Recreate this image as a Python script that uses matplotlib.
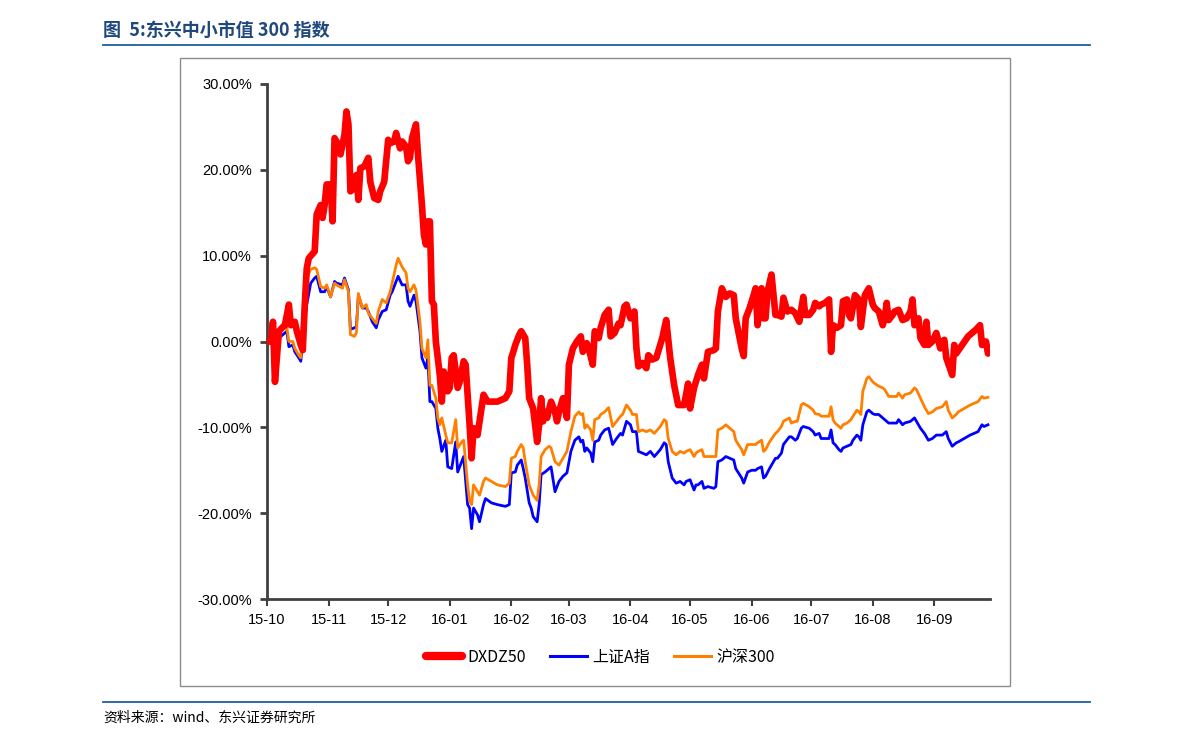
import pandas as pd
import matplotlib.pyplot as plt
import matplotlib.dates as mdates
from matplotlib.ticker import FuncFormatter
from matplotlib.patches import Rectangle
from matplotlib.lines import Line2D

plt.rcParams['font.family'] = ['Noto Sans CJK SC', 'DejaVu Sans']

# 数据：日期用相对 2015-10-01 的天数表示，数值为累计涨跌幅(%)
start = pd.Timestamp('2015-10-01')

red_days = [0, 2, 3, 4, 6, 8, 9, 11, 12, 14, 15, 17, 18, 19, 20, 21, 24, 25, 27, 28,
            29, 30, 32, 33, 34, 35, 37, 39, 40, 41, 42, 43, 44, 45, 46, 47, 49, 51, 52, 54,
            56, 57, 59, 61, 62, 64, 65, 67, 68, 70, 71,
            72, 73, 75, 76, 78, 79, 80, 81, 82, 83, 84, 85, 87, 88, 89, 91, 92, 93, 94, 96,
            97, 99, 100, 102, 103, 104, 106, 108, 109, 111, 116, 120, 122, 123, 124, 125, 127, 128, 130, 131,
            132, 134, 136, 137, 138, 139, 140, 141, 143, 145,
            146, 147, 149, 151, 152, 154, 156, 158, 159, 161, 162, 164, 165, 167, 168, 170, 172, 173, 175, 177,
            178, 180, 181, 183, 185, 186, 187, 189, 191, 192, 194, 196, 199, 201, 203, 205, 207, 210, 212, 213, 215,
            217, 219, 220, 222, 225, 226, 227, 229, 231, 233, 235, 236, 239, 240, 241, 243, 245, 246, 247, 249,
            250, 251, 252, 254, 256, 257, 259, 260, 262, 264, 266, 268, 270, 271, 273, 275, 276, 278, 279, 281,
            283, 284, 285, 287, 289,
            290, 292, 293, 294, 296, 298, 299, 301, 303, 305, 306, 308, 310, 311, 312, 313, 315, 316, 318, 320,
            322, 324, 325, 326, 328, 329, 331, 332, 333, 335, 337, 339, 341, 342, 345, 346, 347, 350, 353, 357,
            359, 360, 362, 363]
dxdz50 = [0.0, 0.0, 2.3, -4.7, 1.2, 1.7, 1.9, 4.3, 1.9, 2.3, 1.2, -0.4, -1.0, 4.3, 8.5, 9.7, 10.5, 14.8, 15.9, 14.4,
          15.9, 18.3, 18.3, 14.0, 23.7, 23.3, 21.8, 24.1, 26.8, 25.3, 17.5, 17.7, 19.0, 19.4, 16.5, 20.2, 20.4, 21.4, 18.6, 16.7,
          16.5, 17.5, 18.6, 23.5, 23.1, 23.3, 24.3, 22.5, 23.3, 22.7, 21.0,
          21.4, 23.7, 25.3, 21.8, 15.9, 12.4, 11.3, 14.0, 14.0, 4.7, 4.3, 0.0, -3.9, -7.0, -3.5, -5.8, -5.4, -1.9, -1.6, -5.4,
          -4.7, -2.3, -2.7, -9.7, -13.6, -10.1, -10.9, -7.8, -6.2, -7.0, -7.0, -6.6, -5.8, -1.9, -1.2, -0.4, 0.8, 1.2, 0.4, -2.7,
          -6.6, -7.8, -11.7, -9.7, -6.6, -9.3, -8.2, -8.9, -7.0, -8.2,
          -9.3, -8.2, -6.6, -8.9, -2.7, -0.8, 0.0, 0.6, -1.2, -0.2, -0.8, -2.7, 1.2, 0.4, 1.6, 3.1, 3.7, 0.6, 1.0, 2.1,
          1.9, 4.1, 4.3, 2.7, 3.5, -0.8, -2.9, -2.5, -3.1, -1.6, -2.1, -1.9, 0.4, 2.5, -1.9, -5.1, -7.4, -7.4, -4.9, -7.8, -5.4,
          -3.9, -2.7, -4.3, -1.2, -1.0, -0.8, 3.5, 6.2, 5.2, 5.6, 5.4, 2.7, -0.8, -1.7, 2.7, 3.9, 5.4, 6.2, 1.9, 6.2,
          2.7, 2.7, 5.8, 7.8, 3.1, 3.1, 2.9, 5.1, 3.5, 3.7, 3.3, 2.3, 5.2, 3.1, 3.1, 3.7, 4.5, 4.1, 4.3, 4.5,
          4.9, -1.2, 1.9, 1.6, 1.9,
          4.7, 4.9, 3.1, 2.7, 5.4, 4.9, 1.7, 5.4, 6.2, 4.3, 3.9, 3.5, 1.9, 2.7, 4.5, 2.5, 3.1, 3.5, 3.7, 2.5,
          2.7, 3.5, 4.9, 1.9, 2.7, 0.4, -0.4, 2.3, -0.4, 0.0, 1.0, -0.8, 0.2, -1.9, -3.9, -0.4, -1.4, -0.4, 0.6, 1.4,
          1.9, -0.4, 0.0, -1.4]

idx_days = [0, 3, 4, 5, 6, 8, 10, 11, 13, 14, 16, 17, 19, 20, 22, 24, 25, 27, 29, 30,
            32, 34, 35, 38, 39, 41, 42, 44, 45, 46, 48, 50, 51, 53, 55, 56, 58, 60, 62, 63,
            65, 66, 68, 70, 71,
            72, 74, 75, 77, 78, 80, 81, 82, 83, 85, 86, 87, 88, 90, 91, 93, 95, 96, 98, 99,
            101, 102, 103, 104, 106, 107, 109, 110, 113, 116, 120, 122, 123, 125, 126, 128, 129, 130, 132, 133,
            134, 136, 137, 138, 140, 142, 143, 145,
            147, 149, 151, 153, 155, 157, 158, 159, 160, 161, 163, 164, 165, 167, 168, 170, 172, 174, 176, 178,
            179, 181, 183, 184, 186, 187, 189, 191, 193, 195, 198, 200, 201, 202, 204, 206, 208, 210, 211, 213,
            215, 216,
            217, 219, 220, 222, 225, 226, 227, 229, 231, 233, 235, 236, 239, 240, 242, 244, 246, 247, 249, 250,
            251, 253, 256, 257, 259, 260, 263, 264, 266, 267, 269, 270, 273, 275, 276, 278, 279, 281, 283, 284,
            285, 286, 288, 289,
            290, 292, 294, 295, 297, 298, 299, 300, 302, 303, 305, 306, 308, 310, 311, 313, 315, 317, 318, 320,
            321, 324, 326, 327, 329, 331, 333, 335, 337, 340, 342, 343, 345, 347, 348, 351, 354, 358, 360, 361,
            363]
sz_a = [0.0, 0.0, 0.8, -1.9, 0.4, 0.8, 1.2, -0.6, -0.4, -1.2, -1.9, -2.3, 2.3, 4.3, 6.8, 7.4, 7.6, 5.8, 5.8, 6.4,
        5.2, 7.0, 6.8, 6.6, 7.4, 6.0, 1.4, 1.6, 1.7, 5.4, 3.9, 3.9, 3.5, 2.3, 1.6, 2.5, 3.5, 3.7, 5.4, 5.8,
        7.0, 7.6, 6.6, 6.6, 4.7,
        4.1, 5.4, 4.7, 1.2, -1.9, -3.1, -1.9, -7.0, -7.0, -7.8, -10.1, -11.3, -12.8, -11.5, -14.6, -14.8, -11.7, -15.2, -14.0, -13.4,
        -19.0, -19.4, -21.8, -19.4, -20.2, -21.0, -19.0, -18.3, -18.8, -19.0, -19.2, -19.0, -15.3, -15.2, -14.4, -13.8, -14.8, -15.9, -18.8, -19.4,
        -20.4, -21.0, -19.0, -15.5, -15.2, -14.8, -14.6, -17.5,
        -16.3, -15.7, -15.3, -12.8, -11.5, -11.1, -11.7, -11.5, -12.8, -12.4, -13.0, -14.0, -11.7, -11.5, -10.9, -10.3, -10.1, -12.0, -11.3, -10.7,
        -10.9, -9.3, -9.7, -10.5, -10.5, -12.8, -13.0, -13.2, -12.8, -13.4, -12.6, -11.8, -12.0, -14.0, -15.9, -16.5, -16.3, -16.7, -16.3, -16.1,
        -17.3, -16.7,
        -16.7, -16.3, -17.1, -16.9, -17.1, -16.9, -14.0, -13.8, -13.4, -13.6, -13.8, -14.8, -15.9, -16.5, -15.2, -15.0, -15.0, -14.8, -14.6, -15.9,
        -15.7, -14.8, -13.6, -13.6, -13.0, -12.0, -11.1, -11.1, -11.5, -11.3, -10.1, -9.9, -10.1, -10.5, -10.9, -10.7, -11.3, -11.3, -11.3, -10.3,
        -11.8, -12.0, -12.6, -12.8,
        -12.4, -12.2, -12.0, -11.5, -10.9, -11.1, -11.5, -9.7, -8.2, -8.0, -8.4, -8.5, -8.5, -8.9, -9.1, -9.5, -9.5, -9.5, -9.1, -9.7,
        -9.5, -9.3, -8.9, -9.3, -10.1, -10.7, -11.5, -11.3, -10.9, -10.9, -10.5, -11.3, -12.2, -11.8, -11.7, -11.3, -10.9, -10.5, -9.7, -9.9,
        -9.7]
hs300 = [0.0, 0.0, 1.2, -1.6, 1.2, 1.5, 1.6, 0.0, 0.0, -0.8, -1.6, -1.9, 3.5, 7.4, 8.4, 8.6, 8.4, 6.4, 6.2, 6.6,
         5.2, 6.8, 6.6, 6.2, 7.2, 5.8, 0.8, 0.6, 1.0, 5.6, 3.9, 4.3, 3.3, 2.7, 2.1, 3.5, 4.9, 4.5, 5.8, 6.8,
         8.9, 9.7, 8.7, 8.0, 6.2,
         5.8, 6.6, 6.0, 2.3, -0.8, -1.9, 0.2, -5.1, -5.1, -6.6, -8.9, -9.7, -8.9, -10.9, -11.8, -11.8, -9.1, -12.4, -11.7, -11.5,
         -16.7, -18.6, -19.0, -16.7, -17.5, -17.9, -16.3, -15.9, -16.3, -16.7, -16.9, -16.5, -13.6, -13.4, -12.8, -12.0, -12.4, -14.0, -16.7, -17.3,
         -17.9, -18.5, -16.7, -13.4, -12.6, -12.2, -12.4, -14.0,
         -14.4, -13.6, -12.8, -10.5, -8.7, -8.2, -8.5, -8.4, -10.1, -9.7, -10.3, -11.5, -9.1, -8.9, -8.5, -8.2, -7.7, -9.9, -9.3, -8.7,
         -8.5, -7.4, -8.0, -8.5, -8.5, -10.5, -10.3, -10.5, -10.3, -10.7, -9.9, -9.1, -9.3, -11.3, -12.8, -13.2, -12.8, -13.0, -12.8, -12.6,
         -13.4, -13.0,
         -12.8, -12.6, -13.4, -13.4, -13.4, -13.4, -10.3, -10.1, -9.7, -10.1, -10.5, -11.5, -12.6, -13.2, -12.0, -12.0, -12.0, -11.8, -11.5, -12.8,
         -12.6, -11.7, -10.7, -10.5, -9.9, -9.3, -8.9, -9.5, -9.3, -9.3, -7.4, -7.2, -7.6, -8.0, -8.4, -8.5, -8.7, -8.7, -8.7, -7.6,
         -9.1, -9.5, -9.9, -10.1,
         -9.7, -9.5, -9.1, -8.7, -8.0, -8.2, -8.5, -5.8, -4.3, -4.1, -4.7, -4.9, -5.2, -5.4, -5.6, -6.4, -6.4, -6.4, -6.0, -6.6,
         -6.2, -6.0, -5.4, -5.6, -6.6, -7.6, -8.4, -8.2, -7.8, -7.6, -7.0, -8.0, -8.9, -8.5, -8.2, -7.8, -7.4, -7.0, -6.4, -6.6,
         -6.5]

series_names = ['DXDZ50', '上证A指', '沪深300']
series_colors = ['#FF0000', '#0000FF', '#FF8000']
yticks = [-30, -20, -10, 0, 10, 20, 30]

red_dates = start + pd.to_timedelta(red_days, unit='D')
idx_dates = start + pd.to_timedelta(idx_days, unit='D')

fig = plt.figure(figsize=(11.91, 7.46), dpi=100)

# 标题
fig.text(0.0865, 0.9598, '图  5:东兴中小市值 300 指数', fontsize=13, fontweight='bold',
         color='#1F497D', va='center', ha='left')
fig.add_artist(Line2D([0.0865, 0.9152], [0.9397, 0.9397], color='#1F5FA0', lw=1.3))

# 外框
fig.add_artist(Rectangle((0.1511, 0.0804), 0.6969, 0.8419, fill=False,
                         edgecolor='#8C8C8C', lw=1.0))

ax = fig.add_axes([0.2242, 0.197, 0.607, 0.6904])
ax.plot(idx_dates, sz_a, color=series_colors[1], lw=2.0, solid_joinstyle='round', zorder=2)
ax.plot(idx_dates, hs300, color=series_colors[2], lw=2.0, solid_joinstyle='round', zorder=3)
ax.plot(red_dates, dxdz50, color=series_colors[0], lw=4.8, solid_joinstyle='round',
        solid_capstyle='round', zorder=4)

ax.set_ylim(-30, 30)
ax.set_yticks(yticks)
ax.yaxis.set_major_formatter(FuncFormatter(lambda v, p: '%.2f%%' % v))
ax.set_xlim(start, start + pd.Timedelta(days=364))
ax.xaxis.set_major_locator(mdates.MonthLocator())
ax.xaxis.set_major_formatter(mdates.DateFormatter('%y-%m'))

for s in ['top', 'right']:
    ax.spines[s].set_visible(False)
for s in ['left', 'bottom']:
    ax.spines[s].set_color('#404040')
    ax.spines[s].set_linewidth(2)
ax.tick_params(axis='y', direction='out', length=5, width=2, color='#404040', pad=6)
ax.tick_params(axis='x', direction='out', length=5, width=1.5, color='#404040', pad=5)
for lab in ax.get_xticklabels() + ax.get_yticklabels():
    lab.set_fontfamily('Liberation Sans')
    lab.set_fontsize(10.5)

handles = [Line2D([], [], color=series_colors[0], lw=6, solid_capstyle='round'),
           Line2D([], [], color=series_colors[1], lw=2.2),
           Line2D([], [], color=series_colors[2], lw=2.2)]
fig.legend(handles, series_names, loc='center', bbox_to_anchor=(0.504, 0.119), ncol=3,
           frameon=False, fontsize=11.5, handlelength=2.3, columnspacing=1.5, handletextpad=0.35)

# 底部来源
fig.add_artist(Line2D([0.0865, 0.9152], [0.059, 0.059], color='#1F5FA0', lw=1.3))
fig.text(0.0865, 0.0375, '资料来源：wind、东兴证券研究所', fontsize=10, style='italic',
         va='center', ha='left')

fig.savefig('out.png', dpi=100)
